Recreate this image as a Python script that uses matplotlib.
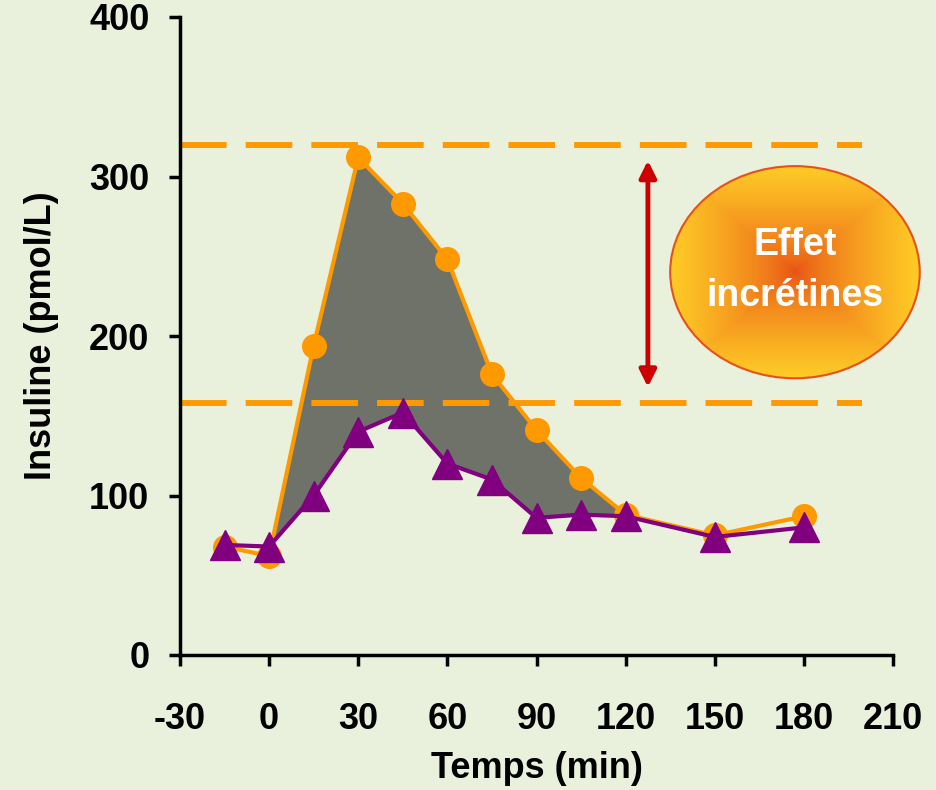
import numpy as np
import matplotlib.pyplot as plt
from matplotlib.patches import Ellipse

# --- data ---
temps = [-15, 0, 15, 30, 45, 60, 75, 90, 105, 120, 150, 180]
insuline_oral = [68, 62, 194, 312, 283, 248, 176, 141, 111, 88, 75, 87]
insuline_iv = [69, 68, 100, 140, 152, 120, 110, 86, 88, 87, 74, 80]
x_ticks = [-30, 0, 30, 60, 90, 120, 150, 180, 210]
y_ticks = [0, 100, 200, 300, 400]
niveau_haut = 320
niveau_bas = 158

bg = "#E9F0DC"
orange = "#FF9900"
violet = "#800080"
plt.rcParams["font.family"] = ["Liberation Sans Narrow", "Liberation Sans", "DejaVu Sans"]
plt.rcParams["font.weight"] = "bold"
plt.rcParams["axes.unicode_minus"] = False

fig = plt.figure(figsize=(9.36, 7.9), dpi=100, facecolor=bg)
ax = fig.add_axes([180 / 936, 135 / 790, 713 / 936, 638 / 790])
ax.set_facecolor(bg)

# shaded area between the two curves (0 -> 120 min)
t = np.array(temps)
o = np.array(insuline_oral)
v = np.array(insuline_iv)
m = (t >= 0) & (t <= 120)
ax.fill_between(t[m], v[m], o[m], color="#6E7268", zorder=1, lw=0)

ax.plot(temps, insuline_oral, color=orange, lw=3, marker="o", ms=17,
        zorder=3, clip_on=False)
ax.plot(temps, insuline_iv, color=violet, lw=3, marker="^", ms=21,
        zorder=4, clip_on=False)

# dashed reference levels
for y in (niveau_haut, niveau_bas):
    ax.plot([-30, 199.5], [y, y], color=orange, lw=4.3, dashes=(7.8, 3.2),
            zorder=2, dash_capstyle="butt")

# double arrow
ax.annotate("", xy=(127.5, 168), xytext=(127.5, 310),
            arrowprops=dict(arrowstyle="<|-|>", color="#CC0000", lw=3.5,
                            mutation_scale=25, shrinkA=0, shrinkB=0),
            zorder=5)

# gradient ellipse
cx, cy, w, h = 177, 240, 84, 133
ell = Ellipse((cx, cy), w, h, facecolor="none", edgecolor="#E8501A",
              lw=1.5, zorder=7, clip_on=False)
ax.add_patch(ell)
gx, gy = np.meshgrid(np.linspace(-1, 1, 200), np.linspace(-1, 1, 200))
r = np.maximum(np.abs(gx), np.abs(gy))
c0 = np.array([0.91, 0.31, 0.08])
c1 = np.array([1.0, 0.80, 0.15])
img = c0 + (c1 - c0) * r[..., None] ** 0.7
im = ax.imshow(img, extent=(cx - w / 2, cx + w / 2, cy - h / 2, cy + h / 2),
               aspect="auto", zorder=6, interpolation="bilinear")
im.set_clip_box(fig.bbox)
im.set_clip_path(ell)
ax.text(cx, cy + 1, "Effet\nincrétines", ha="center", va="center", color="white",
        fontsize=27, fontweight="bold", family=["Liberation Sans", "DejaVu Sans"],
        linespacing=1.55, zorder=8)

ax.set_xlim(-30, 210)
ax.set_ylim(0, 400)
ax.set_xticks(x_ticks)
ax.set_yticks(y_ticks)
ax.tick_params(direction="out", length=8, width=2.5, labelsize=26)
ax.tick_params(axis="x", pad=26)
ax.tick_params(axis="y", pad=14)
for s in ("top", "right"):
    ax.spines[s].set_visible(False)
for s in ("left", "bottom"):
    ax.spines[s].set_linewidth(2.5)
ax.set_xlabel("Temps (min)", fontsize=26, fontweight="bold", labelpad=10)
ax.set_ylabel("Insuline (pmol/L)", fontsize=26, fontweight="bold", labelpad=22)

fig.savefig("out.png", dpi=100, facecolor=bg)
